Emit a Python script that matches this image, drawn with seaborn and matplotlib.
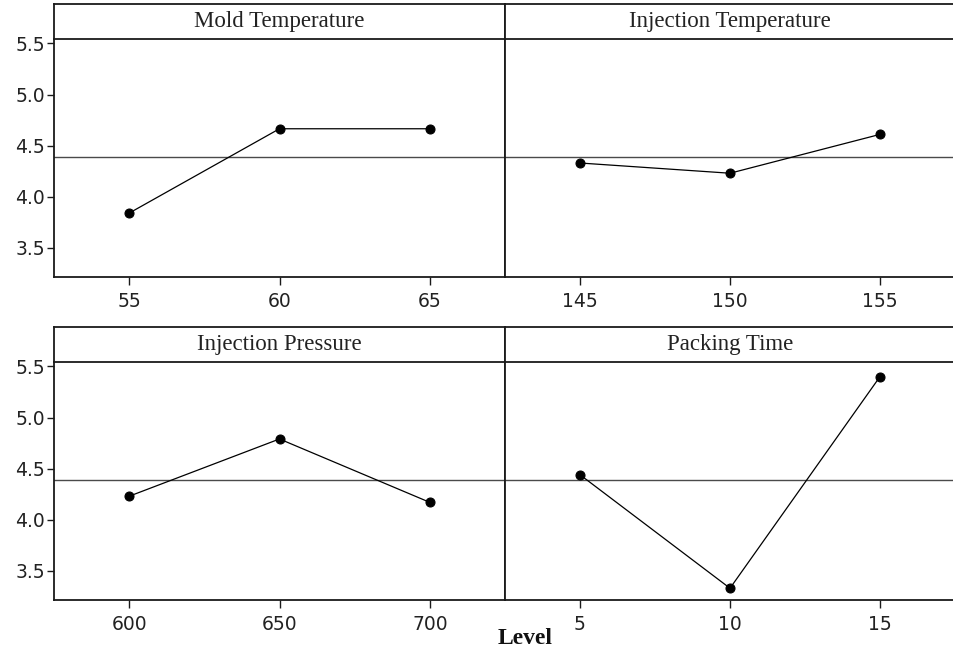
import matplotlib
matplotlib.use("Agg")
import matplotlib.pyplot as plt
import seaborn as sns
import pandas as pd

# ---- data ----
factors = ["Mold Temperature", "Injection Temperature", "Injection Pressure", "Packing Time"]
mold_levels = [55, 60, 65]
mold_means = [3.84, 4.665, 4.665]
injt_levels = [145, 150, 155]
injt_means = [4.33, 4.23, 4.61]
injp_levels = [600, 650, 700]
injp_means = [4.23, 4.79, 4.17]
pack_levels = [5, 10, 15]
pack_means = [4.44, 3.33, 5.40]
grand_mean = 4.39
y_ticks = [3.5, 4.0, 4.5, 5.0, 5.5]
x_label = "Level"

levels_all = [mold_levels, injt_levels, injp_levels, pack_levels]
means_all = [mold_means, injt_means, injp_means, pack_means]

sns.set_style("white")
plt.rcParams["font.family"] = ["DejaVu Sans"]

W, H = 954, 653
fig = plt.figure(figsize=(W / 100, H / 100), dpi=100)

# panel layout in pixels: (left, right, data_top, data_bottom, strip_top)
cols = [(54, 505), (505, 955)]
rows = [(39.3, 277.0, 4.3), (362.3, 600.0, 326.7)]
ylim = (3.215, 5.54)
edge = "#1a1a1a"

for i, (name, lv, mv) in enumerate(zip(factors, levels_all, means_all)):
    r, c = divmod(i, 2)
    xl, xr = cols[c]
    yt, yb, st = rows[r]
    ax = fig.add_axes([xl / W, 1 - yb / H, (xr - xl) / W, (yb - yt) / H])
    df = pd.DataFrame({"Level": lv, "Mean": mv})
    ax.axhline(grand_mean, color="#4a4a4a", lw=1.0, zorder=1)
    sns.lineplot(data=df, x="Level", y="Mean", ax=ax, color="black",
                 marker="o", markersize=6.5, markeredgecolor="black",
                 linewidth=0.9, zorder=3)
    step = lv[1] - lv[0]
    ax.set_xlim(lv[0] - step / 2, lv[-1] + step / 2)
    ax.set_ylim(*ylim)
    ax.set_xticks(lv)
    ax.set_xticklabels([str(v) for v in lv])
    ax.set_xlabel("")
    ax.set_ylabel("")
    ax.tick_params(axis="x", direction="out", length=6, width=1, color=edge,
                   labelsize=13.5, labelcolor="#222222", pad=4.5, bottom=True)
    if c == 0:
        ax.set_yticks(y_ticks)
        ax.set_yticklabels([f"{v:.1f}" for v in y_ticks])
        ax.tick_params(axis="y", direction="out", length=5, width=1, color=edge,
                       labelsize=13.5, labelcolor="#222222", pad=1.5, left=True)
    else:
        ax.set_yticks(y_ticks)
        ax.tick_params(axis="y", left=False, labelleft=False)
    for s in ax.spines.values():
        s.set_color(edge)
        s.set_linewidth(1.3)
    ax.spines["top"].set_visible(False)
    if c == 1:
        ax.spines["right"].set_visible(False)

    # title strip
    sax = fig.add_axes([xl / W, 1 - yt / H, (xr - xl) / W, (yt - st) / H])
    sax.set_xticks([])
    sax.set_yticks([])
    for s in sax.spines.values():
        s.set_color(edge)
        s.set_linewidth(1.3)
    if c == 1:
        sax.spines["right"].set_visible(False)
    sax.text(0.5, 0.5, name, ha="center", va="center", fontsize=16.5,
             family=["Liberation Serif"], color="#222222", transform=sax.transAxes)

fig.text(525 / W, 1 - 639 / H, x_label, ha="center", va="center", fontsize=17,
         fontweight="bold", family=["Liberation Serif"], color="#111111")

fig.savefig("out.png", dpi=100)
